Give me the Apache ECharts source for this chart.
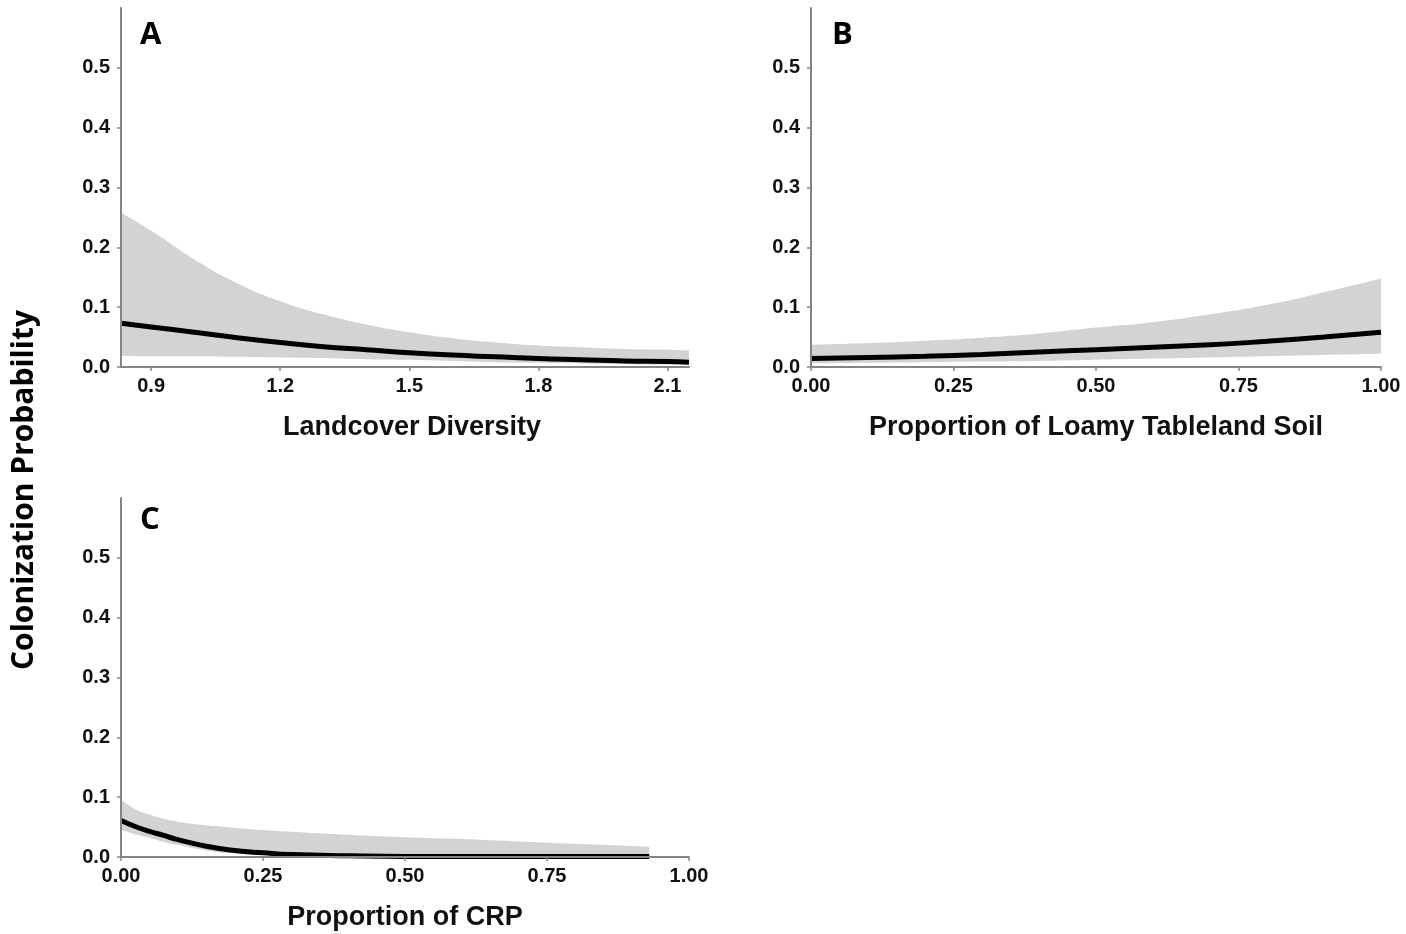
<!DOCTYPE html>
<html>
<head>
<meta charset="utf-8">
<script src="https://cdn.jsdelivr.net/npm/echarts@6/dist/echarts.min.js"></script>
<style>
html,body{margin:0;padding:0;background:#fff;}
#chart{width:1406px;height:934px;}
</style>
</head>
<body>
<div id="chart"></div>
<script>
// Panel A: Landcover Diversity
const xA     = [0.83, 0.9, 1.0, 1.1, 1.2, 1.3, 1.4, 1.5, 1.6, 1.7, 1.8, 1.9, 2.0, 2.1, 2.15];
const upperA = [0.258, 0.228, 0.180, 0.140, 0.110, 0.088, 0.071, 0.058, 0.048, 0.041, 0.036, 0.033, 0.030, 0.029, 0.028];
const meanA  = [0.073, 0.067, 0.058, 0.049, 0.041, 0.034, 0.029, 0.024, 0.020, 0.017, 0.014, 0.012, 0.010, 0.009, 0.008];
const lowerA = [0.019, 0.018, 0.018, 0.017, 0.016, 0.015, 0.013, 0.012, 0.010, 0.008, 0.007, 0.006, 0.005, 0.004, 0.004];
const ticksA = [0.9, 1.2, 1.5, 1.8, 2.1];

// Panel B: Proportion of Loamy Tableland Soil
const xB     = [0, 0.1, 0.2, 0.3, 0.4, 0.5, 0.6, 0.7, 0.8, 0.9, 1.0];
const upperB = [0.037, 0.040, 0.044, 0.049, 0.056, 0.066, 0.075, 0.088, 0.104, 0.125, 0.148];
const meanB  = [0.014, 0.016, 0.018, 0.021, 0.025, 0.029, 0.033, 0.037, 0.043, 0.050, 0.058];
const lowerB = [0.006, 0.007, 0.008, 0.009, 0.010, 0.012, 0.014, 0.016, 0.018, 0.020, 0.022];

// Panel C: Proportion of CRP
const xC     = [0, 0.025, 0.05, 0.075, 0.1, 0.15, 0.2, 0.25, 0.3, 0.4, 0.5, 0.6, 0.7, 0.8, 0.93];
const upperC = [0.096, 0.080, 0.071, 0.064, 0.059, 0.053, 0.049, 0.045, 0.042, 0.037, 0.033, 0.030, 0.026, 0.022, 0.017];
const meanC  = [0.061, 0.051, 0.043, 0.036, 0.029, 0.018, 0.011, 0.007, 0.004, 0.002, 0.001, 0.001, 0.001, 0.001, 0.001];
const lowerC = [0.046, 0.038, 0.032, 0.025, 0.020, 0.011, 0.006, 0.004, 0.002, 0.001, 0.0005, 0.0005, 0.0005, 0.0005, 0.0005];

const ticks01 = [0, 0.25, 0.5, 0.75, 1.0];
const yTicks  = [0, 0.1, 0.2, 0.3, 0.4, 0.5];

const xNames = ['Landcover Diversity', 'Proportion of Loamy Tableland Soil', 'Proportion of CRP'];
const panelLetters = ['A', 'B', 'C'];
const yTitle = 'Colonization Probability';

const tickFont = "'Liberation Sans Narrow', 'Liberation Sans', Arial, sans-serif";
const nameFont = "'Liberation Sans', Arial, sans-serif";
const axisGray = '#858585';

const grids = [
  {left: 121, top: 8, width: 568, height: 359},
  {left: 811, top: 8, width: 570, height: 359},
  {left: 121, top: 498, width: 568, height: 359}
];

function xAxisDef(idx, min, max, tickVals, digits, namePad) {
  return {
    type: 'value', gridIndex: idx, min: min, max: max, z: 10,
    name: xNames[idx], nameLocation: 'middle', nameGap: 47,
    nameTextStyle: {fontFamily: nameFont, fontWeight: 'bold', fontSize: 27, color: '#111', padding: namePad},
    axisLine: {show: true, onZero: false, lineStyle: {color: axisGray, width: 2}},
    axisTick: {show: true, customValues: tickVals, length: 4, lineStyle: {color: axisGray, width: 1.5}},
    axisLabel: {customValues: tickVals, formatter: v => Number(v).toFixed(digits), margin: 9,
      fontFamily: tickFont, fontWeight: 'bold', fontSize: 20, color: '#111'},
    splitLine: {show: false}
  };
}
function yAxisDef(idx) {
  return {
    type: 'value', gridIndex: idx, min: 0, max: 0.6, interval: 0.1, z: 10,
    axisLine: {show: true, lineStyle: {color: axisGray, width: 2}},
    axisTick: {show: true, customValues: yTicks, length: 4, lineStyle: {color: axisGray, width: 1.5}},
    axisLabel: {customValues: yTicks, formatter: v => Number(v).toFixed(1), margin: 11,
      fontFamily: tickFont, fontWeight: 'bold', fontSize: 20, color: '#111'},
    splitLine: {show: false}
  };
}

function panelSeries(idx, xs, lower, upper, mean) {
  return [
    {type: 'line', xAxisIndex: idx, yAxisIndex: idx, symbol: 'none', smooth: true, z: 1,
     lineStyle: {width: 0, opacity: 0}, areaStyle: {color: '#d3d3d3', opacity: 1}, silent: true,
     data: xs.map((x, i) => [x, upper[i]])},
    {type: 'line', xAxisIndex: idx, yAxisIndex: idx, symbol: 'none', smooth: true, z: 2,
     lineStyle: {width: 0, opacity: 0}, areaStyle: {color: '#ffffff', opacity: 1}, silent: true,
     data: xs.map((x, i) => [x, lower[i]])},
    {type: 'line', xAxisIndex: idx, yAxisIndex: idx, symbol: 'none', smooth: true, z: 3,
     lineStyle: {color: '#000', width: 5},
     data: xs.map((x, i) => [x, mean[i]])}
  ];
}

const chart = echarts.init(document.getElementById('chart'), null, {renderer: 'canvas'});
const letterFont = "bold 31px 'Open Sans', sans-serif";
chart.setOption({
  animation: false,
  backgroundColor: '#fff',
  grid: grids,
  xAxis: [
    xAxisDef(0, 0.83, 2.15, ticksA, 1, [0, 0, 0, 14]),
    xAxisDef(1, 0, 1, ticks01, 2, 0),
    xAxisDef(2, 0, 1, ticks01, 2, 0)
  ],
  yAxis: [yAxisDef(0), yAxisDef(1), yAxisDef(2)],
  series: [].concat(
    panelSeries(0, xA, lowerA, upperA, meanA),
    panelSeries(1, xB, lowerB, upperB, meanB),
    panelSeries(2, xC, lowerC, upperC, meanC)
  ),
  graphic: [
    {type: 'text', x: 140, y: 35, style: {text: panelLetters[0], font: letterFont, fill: '#000', verticalAlign: 'middle'}},
    {type: 'text', x: 832, y: 35, style: {text: panelLetters[1], font: letterFont, fill: '#000', verticalAlign: 'middle'}},
    {type: 'text', x: 140, y: 520, style: {text: panelLetters[2], font: letterFont, fill: '#000', verticalAlign: 'middle'}},
    {type: 'text', x: 24, y: 490, rotation: Math.PI / 2,
     style: {text: yTitle, font: "bold 30px 'Open Sans', sans-serif", fill: '#000', align: 'center', verticalAlign: 'middle'}}
  ]
});
</script>
</body>
</html>
